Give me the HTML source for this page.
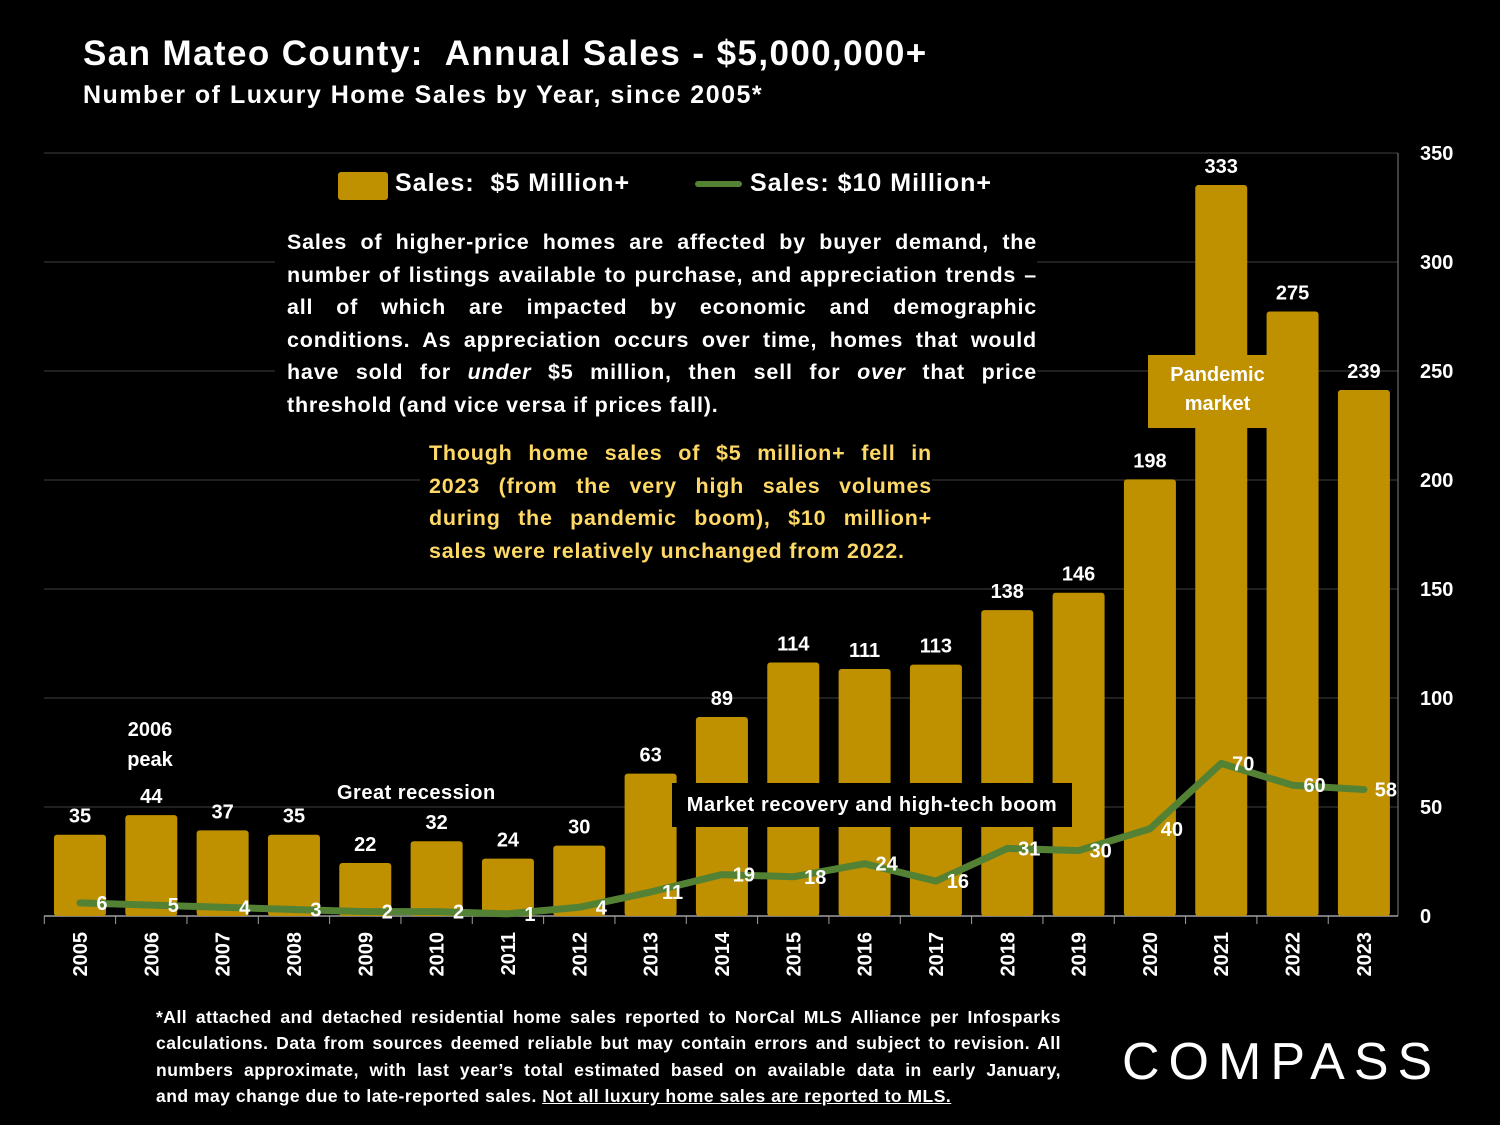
<!DOCTYPE html>
<html><head><meta charset="utf-8">
<style>
body{margin:0;background:#000;width:1500px;height:1125px;overflow:hidden;font-family:"Liberation Sans",sans-serif;color:#fff;}
.abs{position:absolute}
.j div{text-align:justify;text-align-last:justify;white-space:nowrap;}
.j div.last{text-align-last:left}
</style></head>
<body>
<div class="abs" style="left:83px;top:34px;font-size:35px;font-weight:bold;letter-spacing:1.4px">San Mateo County:&nbsp; Annual Sales - $5,000,000+</div>
<div class="abs" style="left:83px;top:81px;font-size:25px;font-weight:bold;letter-spacing:1.5px">Number of Luxury Home Sales by Year, since 2005*</div>
<svg class="abs" style="left:0;top:0" width="1500" height="1125" id="chart"></svg>
<div class="abs" style="left:338px;top:172px;width:50px;height:28px;background:#BF9000;border-radius:3px"></div>
<div class="abs" style="left:395px;top:169px;font-size:25px;font-weight:bold;letter-spacing:1px">Sales:&nbsp; $5 Million+</div>
<div class="abs" style="left:695px;top:181px;width:47px;height:6px;background:#548235;border-radius:3px"></div>
<div class="abs" style="left:750px;top:169px;font-size:25px;font-weight:bold;letter-spacing:1px">Sales: $10 Million+</div>
<div class="abs j" style="left:275px;top:226px;width:750px;padding:0 0 6px 12px;background:#000;font-size:21.5px;font-weight:bold;line-height:32.5px;letter-spacing:0.8px">
<div>Sales of higher-price homes are affected by buyer demand, the</div>
<div>number of listings available to purchase, and appreciation trends –</div>
<div>all of which are impacted by economic and demographic</div>
<div>conditions. As appreciation occurs over time, homes that would</div>
<div>have sold for <i>under</i> $5 million, then sell for <i>over</i> that price</div>
<div class="last">threshold (and vice versa if prices fall).</div>
</div>
<div class="abs j" style="left:420px;top:437px;width:503px;padding:0 0 6px 9px;background:#000;color:#FFD966;font-size:21.5px;font-weight:bold;line-height:32.5px;letter-spacing:0.8px">
<div>Though home sales of $5 million+ fell in</div>
<div>2023 (from the very high sales volumes</div>
<div>during the pandemic boom), $10 million+</div>
<div class="last">sales were relatively unchanged from 2022.</div>
</div>
<div class="abs" style="left:1148px;top:355px;width:139px;height:73px;background:#BF9000;font-size:20px;font-weight:bold;text-align:center;line-height:29px;padding-top:6px;box-sizing:border-box">Pandemic<br>market</div>
<div class="abs" style="left:672px;top:783px;width:400px;height:44px;background:#000;font-size:20px;font-weight:bold;text-align:center;line-height:44px;letter-spacing:0.6px">Market recovery and high-tech boom</div>
<div class="abs" style="left:337px;top:782px;font-size:20px;font-weight:bold;letter-spacing:0.5px">Great recession</div>
<div class="abs" style="left:110px;top:715px;width:80px;font-size:20px;font-weight:bold;text-align:center;line-height:30px">2006<br>peak</div>
<div class="abs j" style="left:156px;top:1004px;width:905px;font-size:17.5px;font-weight:bold;line-height:26.3px;letter-spacing:0.5px">
<div>*All attached and detached residential home sales reported to NorCal MLS Alliance per Infosparks</div>
<div>calculations. Data from sources deemed reliable but may contain errors and subject to revision. All</div>
<div>numbers approximate, with last year’s total estimated based on available data in early January,</div>
<div class="last">and may change due to late-reported sales. <u>Not all luxury home sales are reported to MLS.</u></div>
</div>
<div class="abs" style="left:1122px;top:1032px;font-size:52px;letter-spacing:9px;font-weight:normal">COMPASS</div>
<script>
const years=["2005","2006","2007","2008","2009","2010","2011","2012","2013","2014","2015","2016","2017","2018","2019","2020","2021","2022","2023"];
const sales5m=[35,44,37,35,22,32,24,30,63,89,114,111,113,138,146,198,333,275,239];
const sales10m=[6,5,4,3,2,2,1,4,11,19,18,24,16,31,30,40,70,60,58];
const yTicks=[0,50,100,150,200,250,300,350];
const svg=document.getElementById('chart');
const NS='http://www.w3.org/2000/svg';
const left=44.3,band=71.33,y0=916,yTop=153,yMax=350;
const X=i=>left+band*(i+0.5);
const Y=v=>y0-(v/yMax)*(y0-yTop);
function mk(t,a){const e=document.createElementNS(NS,t);for(const k in a)e.setAttribute(k,a[k]);svg.appendChild(e);return e;}
yTicks.forEach(v=>{
 if(v>0){const g=mk('line',{x1:44,x2:1398,y1:Y(v),y2:Y(v),stroke:'#404040','stroke-width':1});
 
 }
 const t=mk('text',{x:1420,y:Y(v)+7,fill:'#fff','font-size':20,'font-weight':'bold','font-family':'Liberation Sans'});
 t.textContent=v;
 
 
});
const ax=mk('line',{x1:1398,x2:1398,y1:153,y2:916,stroke:'#808080','stroke-width':1});


const bx=mk('line',{x1:44,x2:1398,y1:916,y2:916,stroke:'#a0a0a0','stroke-width':1.5});


years.forEach((y,i)=>{
 const tk=mk('line',{x1:left+band*i,x2:left+band*i,y1:916,y2:924,stroke:'#a0a0a0','stroke-width':1});
 
 
 const top=Y(sales5m[i])-5;
 const r=mk('rect',{x:X(i)-26,y:top,width:52,height:y0-top,fill:'#BF9000',rx:3});
 
 
 const l=mk('text',{x:X(i),y:top-12,fill:'#fff','font-size':20,'font-weight':'bold','text-anchor':'middle','font-family':'Liberation Sans'});
 l.textContent=sales5m[i];
 
 
 const yl=mk('text',{x:0,y:0,fill:'#fff','font-size':20,'font-weight':'bold','text-anchor':'end','font-family':'Liberation Sans',transform:`translate(${X(i)+7},932) rotate(-90)`});
 yl.textContent=y;
 
 
});
const pl=mk('polyline',{points:sales10m.map((v,i)=>X(i)+','+Y(v)).join(' '),fill:'none',stroke:'#548235','stroke-width':7,'stroke-linejoin':'round','stroke-linecap':'round'});


sales10m.forEach((v,i)=>{
 const t=mk('text',{x:X(i)+22,y:Y(v)+7,fill:'#fff','font-size':20,'font-weight':'bold','text-anchor':'middle','font-family':'Liberation Sans'});
 t.textContent=v;
 
 
});
</script>
</body></html>
